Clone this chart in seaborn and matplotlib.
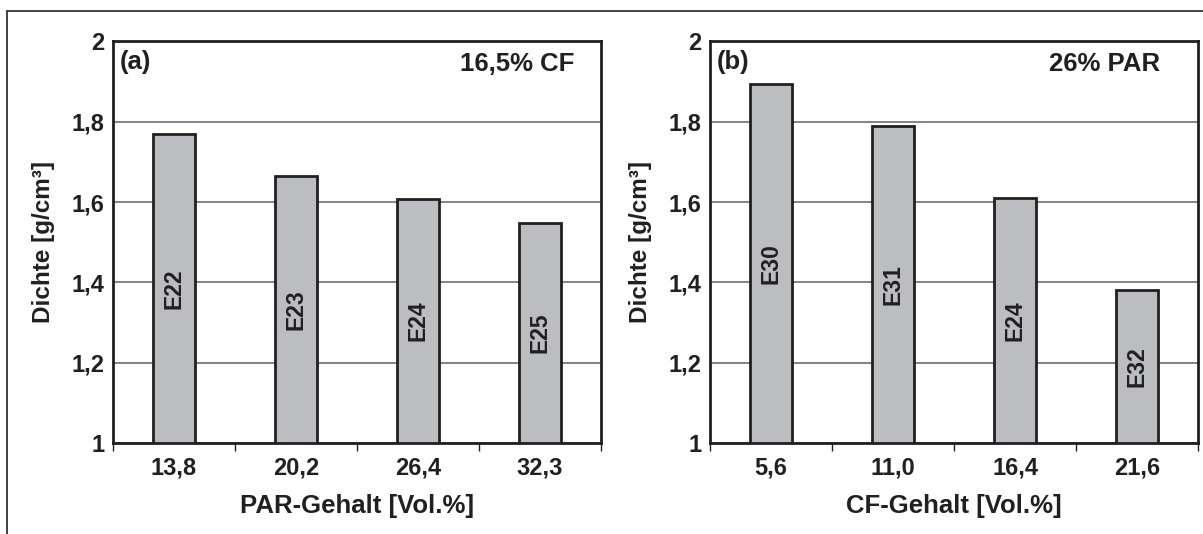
import matplotlib

matplotlib.use("Agg")
import matplotlib.pyplot as plt
from matplotlib.lines import Line2D
from matplotlib.ticker import FixedLocator, FuncFormatter
import seaborn as sns

sns.set_theme(style="white")
plt.rcParams["font.family"] = ["Liberation Sans", "DejaVu Sans"]
plt.rcParams["font.weight"] = "bold"

BAR_FACE, BAR_EDGE, GRID = "#bcbdc1", "#231f20", "#6d6e71"

# panel (a): 16,5% CF, varying PAR
par_content = ["13,8", "20,2", "26,4", "32,3"]
par_density = [1.77, 1.664, 1.607, 1.549]
par_names = ["E22", "E23", "E24", "E25"]

# panel (b): 26% PAR, varying CF
cf_content = ["5,6", "11,0", "16,4", "21,6"]
cf_density = [1.893, 1.79, 1.609, 1.38]
cf_names = ["E30", "E31", "E24", "E32"]


def panel(ax, cats, vals, names, xlabel, tag, note, note_x):
    sns.barplot(x=cats, y=vals, ax=ax, color=BAR_FACE, width=0.34,
                edgecolor=BAR_EDGE, linewidth=2, saturation=1)
    for i, (v, n) in enumerate(zip(vals, names)):
        ax.text(i, (1 + v) / 2, n, rotation=90, ha="center", va="center",
                fontsize=16.5, fontweight="bold", color=BAR_EDGE)
    ax.set_ylim(1, 2)
    ax.set_xlim(-0.5, len(cats) - 0.5)
    ax.yaxis.set_major_locator(FixedLocator([1, 1.2, 1.4, 1.6, 1.8, 2]))
    ax.yaxis.set_major_formatter(FuncFormatter(lambda y, _: f"{y:g}".replace(".", ",")))
    ax.grid(axis="y", color=GRID, lw=1.2)
    ax.set_axisbelow(True)
    for s in ax.spines.values():
        s.set_visible(True)
        s.set_color(BAR_EDGE)
        s.set_linewidth(2)
    ax.xaxis.set_minor_locator(FixedLocator([k - 0.5 for k in range(len(cats) + 1)]))
    ax.tick_params(axis="x", which="major", length=0, pad=10, labelsize=17, colors=BAR_EDGE)
    ax.tick_params(axis="x", which="minor", length=6, width=1, color=BAR_EDGE, bottom=True)
    ax.tick_params(axis="y", length=0, pad=6, labelsize=17, colors=BAR_EDGE)
    ax.set_xlabel(xlabel, fontsize=18.5, fontweight="bold", color=BAR_EDGE, labelpad=10)
    ax.set_ylabel("Dichte [g/cm³]", fontsize=17.5, fontweight="bold", color=BAR_EDGE, labelpad=12)
    ax.text(0.014, 0.948, tag, transform=ax.transAxes, ha="left", va="center",
            fontsize=18.5, fontweight="bold", color=BAR_EDGE)
    ax.text(note_x, 0.945, note, transform=ax.transAxes, ha="right", va="center",
            fontsize=18.5, fontweight="bold", color=BAR_EDGE)


fig = plt.figure(figsize=(12.03, 5.34), dpi=100)
ax1 = fig.add_axes([0.0939, 0.1704, 0.4057, 0.7519])
ax2 = fig.add_axes([0.5902, 0.1704, 0.4057, 0.7519])

panel(ax1, par_content, par_density, par_names, "PAR-Gehalt [Vol.%]", "(a)", "16,5% CF", 0.946)
panel(ax2, cf_content, cf_density, cf_names, "CF-Gehalt [Vol.%]", "(b)", "26% PAR", 0.922)

# outer frame (only top and left edge visible)
fig.add_artist(Line2D([0.0058, 1.0], [0.9794, 0.9794], transform=fig.transFigure,
                      color="#333333", lw=1.3))
fig.add_artist(Line2D([0.0058, 0.0058], [0.0, 0.9794], transform=fig.transFigure,
                      color="#333333", lw=1.3))

fig.savefig("out.png", dpi=100)
